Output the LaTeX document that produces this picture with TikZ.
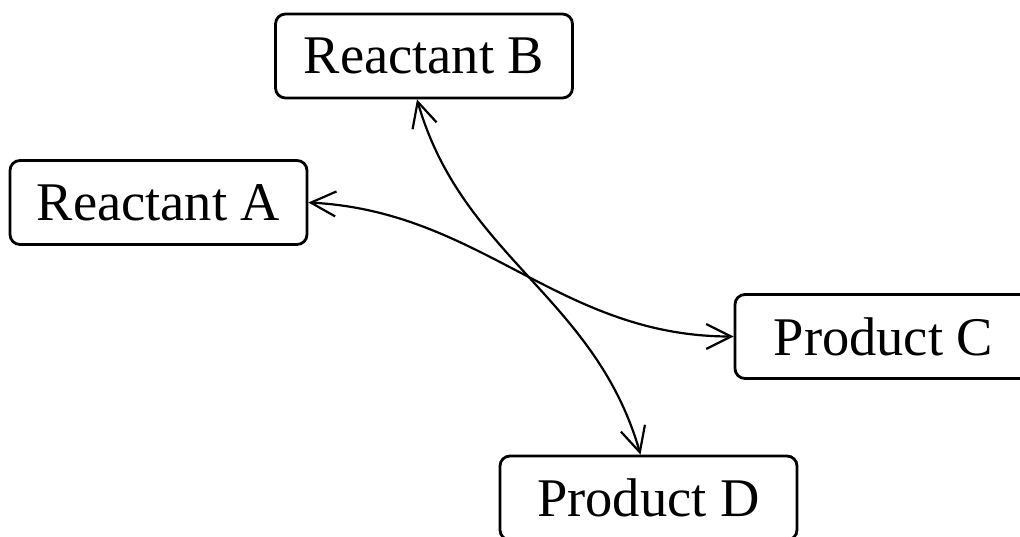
\documentclass[tikz,border=0pt]{standalone}
\usepackage{fontspec}
\setmainfont{Liberation Serif}
\usetikzlibrary{arrows.meta}

\begin{document}
\begin{tikzpicture}[
		species/.style = {draw, rounded corners=0.2cm, line width=1.6pt, minimum width=5.94cm, minimum height=1.68cm, font=\fontsize{31}{36}\selectfont},
		reaction/.style = {line width=1.25pt, {Straight Barb[length=0.5cm,width=0.5cm]}-{Straight Barb[length=0.5cm,width=0.5cm]}}
	]
	\useasboundingbox (0,0) rectangle (20.4,-10.74);
	\node [species] (rb) at (8.48,-1.12) {Reactant B};
	\node [species] (ra) at (3.17,-4.05) {Reactant A};
	\node [species] (pc) at (17.67,-6.73) {Product C};
	\node [species] (pd) at (12.97,-9.96) {Product D};
	% the two crossing reactions
	\draw [reaction] (ra.east) to [out=-3,in=180] (pc.west);
	\draw [reaction] ([xshift=-0.14cm]rb.south) to [out=-74,in=106] ([xshift=-0.16cm]pd.north);
\end{tikzpicture}
\end{document}
